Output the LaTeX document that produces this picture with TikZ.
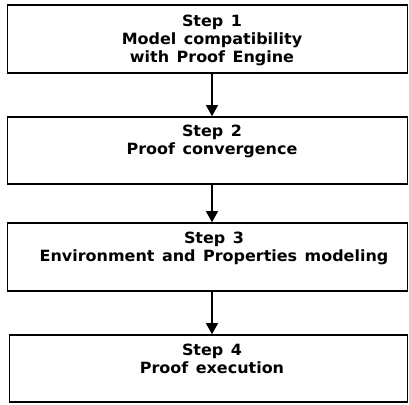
\documentclass[tikz,border=0pt]{standalone}
\usepackage{fontspec}
\setmainfont{DejaVu Sans}[WordSpace=1.35,FakeStretch=1.03]
\usetikzlibrary{arrows.meta}
\begin{document}
\begin{tikzpicture}[x=1pt,y=-1pt,
  stepbox/.style={draw=black,line width=1.6pt,rectangle,inner sep=0pt},
  steptext/.style={anchor=north,align=center,inner sep=0pt,font=\bfseries\fontsize{15.5}{18}\selectfont},
  flow/.style={line width=1.2pt,-{Triangle[width=12pt,length=11pt]}}]
\useasboundingbox (0,0) rectangle (409,404);
\node[stepbox,minimum width=400pt,minimum height=68pt] (b1) at (207.5,39) {};
\node[stepbox,minimum width=400pt,minimum height=67pt] (b2) at (207.5,150.5) {};
\node[stepbox,minimum width=400pt,minimum height=68pt] (b3) at (207.5,257) {};
\node[stepbox,minimum width=398pt,minimum height=67pt] (b4) at (208.5,368.5) {};
\node[steptext] (t1) at (212,14.5) {Step 1\\Model compatibility\\with Proof Engine};
\node[steptext] (t2) at (212,124.5) {Step 2\\Proof convergence};
\node[steptext] (t3) at (214,231.5) {Step 3\\Environment and Properties modeling};
\node[steptext] (t4) at (212,343.5) {Step 4\\Proof execution};
\coordinate (ax) at (212,0);
\draw[flow] (b1.south -| ax) -- (b2.north -| ax);
\draw[flow] (b2.south -| ax) -- (b3.north -| ax);
\draw[flow] (b3.south -| ax) -- (b4.north -| ax);
\end{tikzpicture}
\end{document}
